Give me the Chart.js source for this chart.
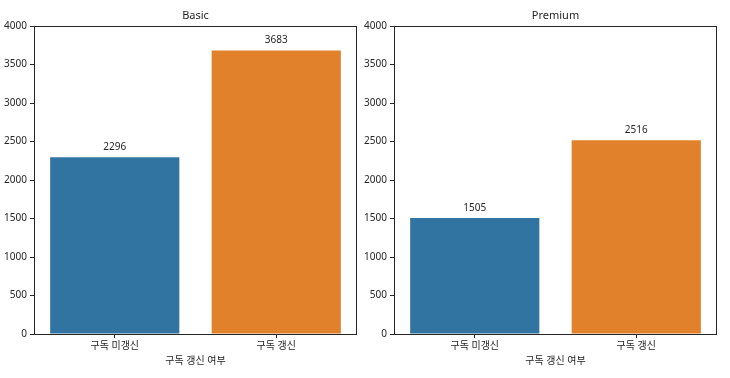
<!DOCTYPE html>
<html>
<head>
<meta charset="utf-8">
<script src="https://cdn.jsdelivr.net/npm/chart.js@4/dist/chart.umd.min.js"></script>
<style>
  html, body { margin:0; padding:0; background:#fff; }
  #wrap { position:relative; width:730px; height:378px; }
  .panel { position:absolute; top:0; height:378px; }
</style>
</head>
<body>
<div id="wrap">
  <div class="panel" style="left:0; width:365px;"><canvas id="basic"></canvas></div>
  <div class="panel" style="left:360px; width:370px;"><canvas id="premium"></canvas></div>
</div>
<script>
// data
const categories = ['구독 미갱신', '구독 갱신'];
const basicCounts = [2296, 3683];
const premiumCounts = [1505, 2516];
const barColors = ['#3274a1', '#e1812c'];
const xTitle = '구독 갱신 여부';

const FONT = "'Noto Sans', 'Noto Sans CJK KR', sans-serif";
const TEXT = '#262626';

// spines on all four sides + value labels + title
const decor = {
  id: 'decor',
  afterDatasetsDraw(chart, args, opts) {
    const { ctx, chartArea: a } = chart;
    ctx.save();
    ctx.strokeStyle = '#262626';
    ctx.lineWidth = 1;
    ctx.strokeRect(Math.round(a.left) + 0.5, Math.round(a.top) + 0.5,
                   Math.round(a.right - a.left) - 1, Math.round(a.bottom - a.top));
    ctx.fillStyle = TEXT;
    ctx.font = '10px ' + FONT;
    ctx.textAlign = 'center';
    ctx.textBaseline = 'bottom';
    chart.getDatasetMeta(0).data.forEach((bar, i) => {
      ctx.fillText(String(chart.data.datasets[0].data[i]), bar.x, bar.y - 5);
    });
    ctx.font = '11px ' + FONT;
    ctx.textBaseline = 'middle';
    ctx.fillText(opts.title, (a.left + a.right) / 2, 16);
    ctx.restore();
  }
};

function makeChart(id, values, title, padRight) {
  return new Chart(document.getElementById(id), {
    type: 'bar',
    data: {
      labels: categories,
      datasets: [{
        data: values,
        backgroundColor: barColors,
        borderWidth: 0,
        inflateAmount: 0,
        barPercentage: 0.8,
        categoryPercentage: 1.0
      }]
    },
    options: {
      responsive: true,
      maintainAspectRatio: false,
      animation: false,
      layout: { padding: { top: 26, left: 0, right: padRight, bottom: 11 } },
      plugins: {
        legend: { display: false },
        tooltip: { enabled: false },
        decor: { title }
      },
      scales: {
        x: {
          grid: { display: true, drawOnChartArea: false, tickLength: 4, color: '#262626', offset: false },
          border: { display: false },
          ticks: { color: TEXT, font: { family: FONT, size: 10 }, padding: 2 },
          title: { display: true, text: xTitle, color: TEXT, font: { family: FONT, size: 10 }, padding: { top: 0, bottom: 0 } },
          afterFit(scale) { scale.height = 33; }
        },
        y: {
          min: 0,
          max: 4000,
          ticks: {
            stepSize: 500, color: TEXT, font: { family: FONT, size: 10 }, padding: 3,
            callback: v => String(v)
          },
          grid: { display: true, drawOnChartArea: false, tickLength: 4, color: '#262626' },
          border: { display: false },
          afterFit(scale) { scale.width = 34; }
        }
      }
    },
    plugins: [decor]
  });
}

makeChart('basic', basicCounts, 'Basic', 8);
makeChart('premium', premiumCounts, 'Premium', 13);
</script>
</body>
</html>
